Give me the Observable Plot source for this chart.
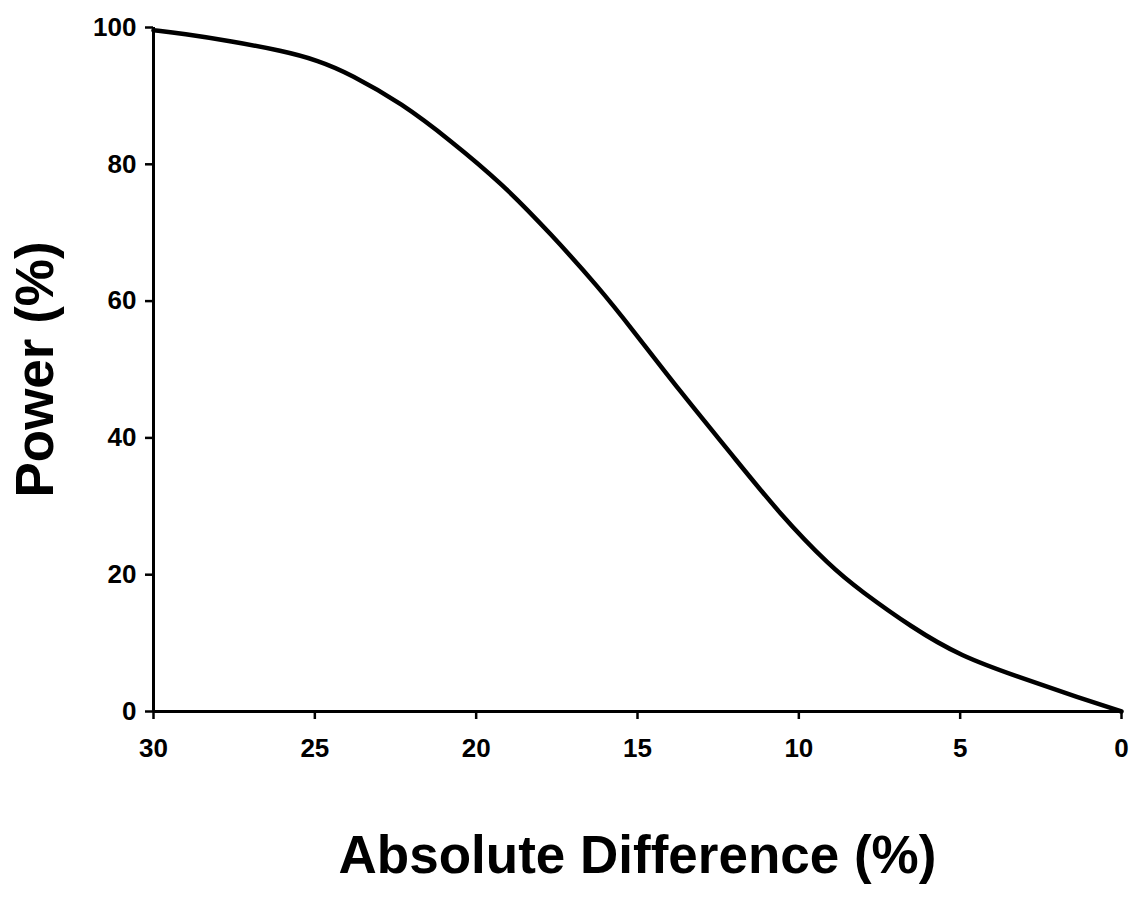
<!DOCTYPE html>
<html>
<head>
<meta charset="utf-8">
<script src="https://cdn.jsdelivr.net/npm/d3@7"></script>
<script src="https://cdn.jsdelivr.net/npm/@observablehq/plot@0.6"></script>
<style>
  html, body { margin: 0; padding: 0; background: #fff; }
  #chart svg { display: block; }
</style>
</head>
<body>
<div id="chart"></div>
<script>
// Absolute difference (%) and statistical power (%)
const diff  = [0, 1.3, 3.1, 5.0, 6.5, 8.1, 9.0, 10.6, 12.1, 13.7, 15.2, 16.2, 17.7, 19.2, 20.8, 22.3, 23.9, 24.9, 26.0, 27.6, 29.1, 30];
const power = [0, 2.0, 4.9, 8.1, 12.3, 17.7, 21.1, 28.9, 37.7, 46.9, 56.1, 62.0, 69.9, 77.2, 83.5, 88.9, 93.2, 95.2, 96.6, 98.0, 99.1, 99.6];
const xTicks = [30, 25, 20, 15, 10, 5, 0];
const yTicks = [0, 20, 40, 60, 80, 100];
const xTitle = "Absolute Difference (%)";
const yTitle = "Power (%)";

const data = diff.map((d, i) => ({diff: d, power: power[i]}));

const chart = Plot.plot({
  width: 1134,
  height: 915,
  marginLeft: 153,
  marginRight: 13,
  marginTop: 27,
  marginBottom: 204,
  style: {fontFamily: "'Liberation Sans', Arial, sans-serif", fontWeight: "bold", background: "#fff", color: "#000"},
  x: {domain: [30, 0], axis: null},
  y: {domain: [0, 100], axis: null},
  marks: [
    Plot.axisX({ticks: xTicks, tickSize: 8, tickPadding: 19, fontSize: 26, fontWeight: "bold", strokeWidth: 2.5, label: null}),
    Plot.axisY({ticks: yTicks, tickSize: 8, tickPadding: 9, fontSize: 26, fontWeight: "bold", strokeWidth: 2.5, label: null}),
    Plot.ruleY([0], {stroke: "#000", strokeWidth: 3}),
    Plot.ruleX([30], {stroke: "#000", strokeWidth: 3}),
    Plot.line(data, {x: "diff", y: "power", curve: "basis", stroke: "#000", strokeWidth: 4.5}),
    Plot.text([xTitle], {text: d => d, frameAnchor: "bottom", dy: 161, fontSize: 53, fontWeight: "bold", fill: "#000"}),
    Plot.text([yTitle], {text: d => d, frameAnchor: "left", textAnchor: "middle", rotate: -90, dx: -117, fontSize: 53, fontWeight: "bold", fill: "#000"})
  ]
});
document.getElementById("chart").appendChild(chart);
</script>
</body>
</html>
